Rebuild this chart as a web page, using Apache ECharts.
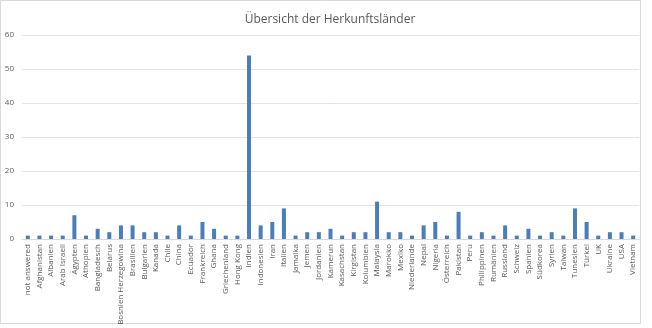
<!DOCTYPE html>
<html>
<head>
<meta charset="utf-8">
<script src="https://cdn.jsdelivr.net/npm/echarts@6/dist/echarts.min.js"></script>
<style>
  html, body { margin: 0; padding: 0; background: #fff; }
  #chart { width: 652px; height: 328px; }
</style>
</head>
<body>
<div id="chart"></div>
<script>
const countries = [
  "not answered", "Afghanistan", "Albanien", "Arab Israeli", "Ägypten", "Äthopien",
  "Bangladesch", "Belarus", "Bosnien Herzegowina", "Brasilien", "Bulgarien", "Kanada",
  "Chile", "China", "Ecuador", "Frankreich", "Ghana", "Griechenland", "Hong Kong",
  "Indien", "Indonesien", "Iran", "Italien", "Jamaika", "Jemen", "Jordanien", "Kamerun",
  "Kasachstan", "Kirgistan", "Kolumbien", "Malaysia", "Marokko", "Mexiko", "Niederlande",
  "Nepal", "Nigeria", "Österreich", "Pakistan", "Peru", "Philippinen", "Rumänien",
  "Russland", "Schweiz", "Spanien", "Südkorea", "Syrien", "Taiwan", "Tunesien", "Türkei",
  "UK", "Ukraine", "USA", "Vietnam"
];
const counts = [
  1, 1, 1, 1, 7, 1,
  3, 2, 4, 4, 2, 2,
  1, 4, 1, 5, 3, 1, 1,
  54, 4, 5, 9, 1, 2, 2, 3,
  1, 2, 2, 11, 2, 2, 1,
  4, 5, 1, 8, 1, 2, 1,
  4, 1, 3, 1, 2, 1, 9, 5,
  1, 2, 2, 1
];
const yTicks = { min: 0, max: 60, step: 10 };

const textGray = "#595959";
const chart = echarts.init(document.getElementById("chart"));

chart.setOption({
  backgroundColor: "#fff",
  animation: false,
  title: {
    text: "Übersicht der Herkunftsländer",
    left: 325,
    textAlign: "center",
    top: 9,
    textStyle: { fontFamily: "Open Sans", fontSize: 12, fontWeight: "normal", color: textGray },
  },
  graphic: [
    {
      type: "rect",
      shape: { x: 0.5, y: 0.5, width: 640, height: 323 },
      style: { fill: "none", stroke: "#d9d9d9", lineWidth: 1 },
      silent: true,
    },
  ],
  grid: { left: 22, right: 13, top: 35, bottom: 89 },
  xAxis: {
    type: "category",
    data: countries,
    axisTick: { show: false },
    axisLine: { lineStyle: { color: "#d9d9d9" } },
    axisLabel: {
      interval: 0,
      rotate: 90,
      margin: 5,
      fontFamily: "Open Sans",
      fontSize: 8,
      color: textGray,
    },
  },
  yAxis: {
    type: "value",
    min: yTicks.min,
    max: yTicks.max,
    interval: yTicks.step,
    axisLine: { show: false },
    axisTick: { show: false },
    splitLine: { lineStyle: { color: "#e4e4e4" } },
    axisLabel: { margin: 8, fontFamily: "Open Sans", fontSize: 8, color: textGray },
  },
  series: [
    {
      type: "bar",
      data: counts,
      barWidth: 4,
      itemStyle: { color: "#4a7ebb" },
    },
  ],
});
</script>
</body>
</html>
